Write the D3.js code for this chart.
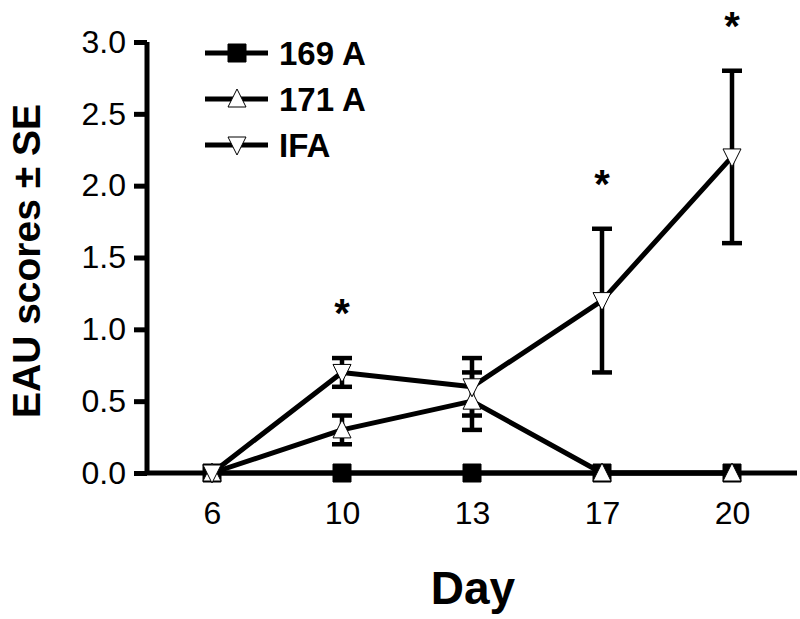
<!DOCTYPE html>
<html>
<head>
<meta charset="utf-8">
<script src="https://cdn.jsdelivr.net/npm/d3@7"></script>
<style>
  html, body { margin: 0; padding: 0; background: #fff; }
  svg { display: block; font-family: "Liberation Sans", Arial, sans-serif; }
</style>
</head>
<body>
<svg id="chart" width="800" height="619"></svg>
<script>
// ---- data ----
const days = ["6", "10", "13", "17", "20"];
const yTicks = [0, 0.5, 1.0, 1.5, 2.0, 2.5, 3.0];
const seriesNames = ["169 A", "171 A", "IFA"];
const values169A = [0, 0, 0, 0, 0];
const se169A     = [0, 0, 0, 0, 0];
const values171A = [0, 0.3, 0.5, 0, 0];
const se171A     = [0, 0.1, 0.2, 0, 0];
const valuesIFA  = [0, 0.7, 0.6, 1.2, 2.2];
const seIFA      = [0, 0.1, 0.2, 0.5, 0.6];
const significantDays = ["10", "17", "20"];
const xTitle = "Day";
const yTitle = "EAU scores \u00B1 SE";

// ---- setup ----
const svg = d3.select("#chart");
const x = d3.scalePoint().domain(days).range([147, 797]).padding(0.5);
const y = d3.scaleLinear().domain([0, 3]).range([473, 42]);

const series = [
  { name: seriesNames[0], values: values169A, se: se169A, marker: "square" },
  { name: seriesNames[1], values: values171A, se: se171A, marker: "up" },
  { name: seriesNames[2], values: valuesIFA, se: seIFA, marker: "down" }
];

function markerPath(type) {
  if (type === "square") return "M-9,-9H9V9H-9Z";
  if (type === "up") return "M0,-10L9,8H-9Z";
  return "M0,10L9,-8H-9Z";
}

// ---- axes ----
const yAxis = d3.axisLeft(y).tickValues(yTicks).tickFormat(d3.format(".1f")).tickSize(13).tickPadding(8);
const gy = svg.append("g").attr("transform", "translate(147,0)").call(yAxis);
gy.select(".domain").attr("d", `M0,${y(3)}V${y(0)}`).attr("stroke", "#000").attr("stroke-width", 5);
gy.selectAll(".tick line").attr("stroke", "#000").attr("stroke-width", 5);
gy.selectAll(".tick text").attr("font-size", 32).attr("fill", "#000")
  .attr("font-family", "Liberation Sans, Arial, sans-serif");

const xAxis = d3.axisBottom(x).tickSize(9).tickPadding(19);
const gx = svg.append("g").attr("transform", `translate(0,${y(0)})`).call(xAxis);
gx.select(".domain").attr("d", "M147,0H797").attr("stroke", "#000").attr("stroke-width", 5);
gx.selectAll(".tick line").attr("stroke", "#000").attr("stroke-width", 5);
gx.selectAll(".tick text").attr("font-size", 32).attr("fill", "#000")
  .attr("font-family", "Liberation Sans, Arial, sans-serif");

// ---- titles ----
svg.append("text")
  .attr("transform", "translate(40,261) rotate(-90)")
  .attr("text-anchor", "middle")
  .attr("font-size", 39).attr("font-weight", "bold")
  .text(yTitle);
svg.append("text")
  .attr("x", 473).attr("y", 604)
  .attr("text-anchor", "middle")
  .attr("font-size", 46).attr("font-weight", "bold")
  .text(xTitle);

// ---- lines ----
const line = d3.line().x((d, i) => x(days[i])).y(d => y(d));
const plot = svg.append("g");
series.forEach(s => {
  plot.append("path").datum(s.values)
    .attr("d", line).attr("fill", "none")
    .attr("stroke", "#000").attr("stroke-width", 5).attr("stroke-linejoin", "round");
});

// ---- error bars ----
series.forEach(s => {
  s.values.forEach((v, i) => {
    if (!s.se[i]) return;
    const cx = x(days[i]);
    const g = plot.append("g");
    g.append("line").attr("x1", cx).attr("x2", cx)
      .attr("y1", y(v + s.se[i])).attr("y2", y(v - s.se[i]))
      .attr("stroke", "#000").attr("stroke-width", 4.5);
    [v + s.se[i], v - s.se[i]].forEach(e => {
      g.append("line").attr("x1", cx - 10).attr("x2", cx + 10)
        .attr("y1", y(e)).attr("y2", y(e))
        .attr("stroke", "#000").attr("stroke-width", 4.5);
    });
  });
});

// ---- markers ----
series.forEach(s => {
  plot.selectAll(null).data(s.values).enter().append("path")
    .attr("transform", (d, i) => `translate(${x(days[i])},${y(d)})`)
    .attr("d", markerPath(s.marker))
    .attr("fill", s.marker === "square" ? "#000" : "#fff")
    .attr("stroke", "#000").attr("stroke-width", 1);
});

// ---- significance asterisks ----
significantDays.forEach(dday => {
  const i = days.indexOf(dday);
  const top = d3.max(series, s => s.values[i] + s.se[i]);
  svg.append("text")
    .attr("x", x(dday)).attr("y", y(top) - 54 + 23)
    .attr("text-anchor", "middle")
    .attr("font-size", 40).attr("font-weight", "bold")
    .text("*");
});

// ---- legend ----
const legend = svg.append("g");
const legendRows = [53, 99, 145];
series.forEach((s, k) => {
  const ly = legendRows[k];
  legend.append("line").attr("x1", 205).attr("x2", 268).attr("y1", ly).attr("y2", ly)
    .attr("stroke", "#000").attr("stroke-width", 5);
  legend.append("path").attr("transform", `translate(237,${ly})`)
    .attr("d", markerPath(s.marker))
    .attr("fill", s.marker === "square" ? "#000" : "#fff")
    .attr("stroke", "#000").attr("stroke-width", 1);
  legend.append("text").attr("x", 279).attr("y", ly + 12)
    .attr("font-size", 33).attr("font-weight", "bold")
    .text(s.name);
});
</script>
</body>
</html>
